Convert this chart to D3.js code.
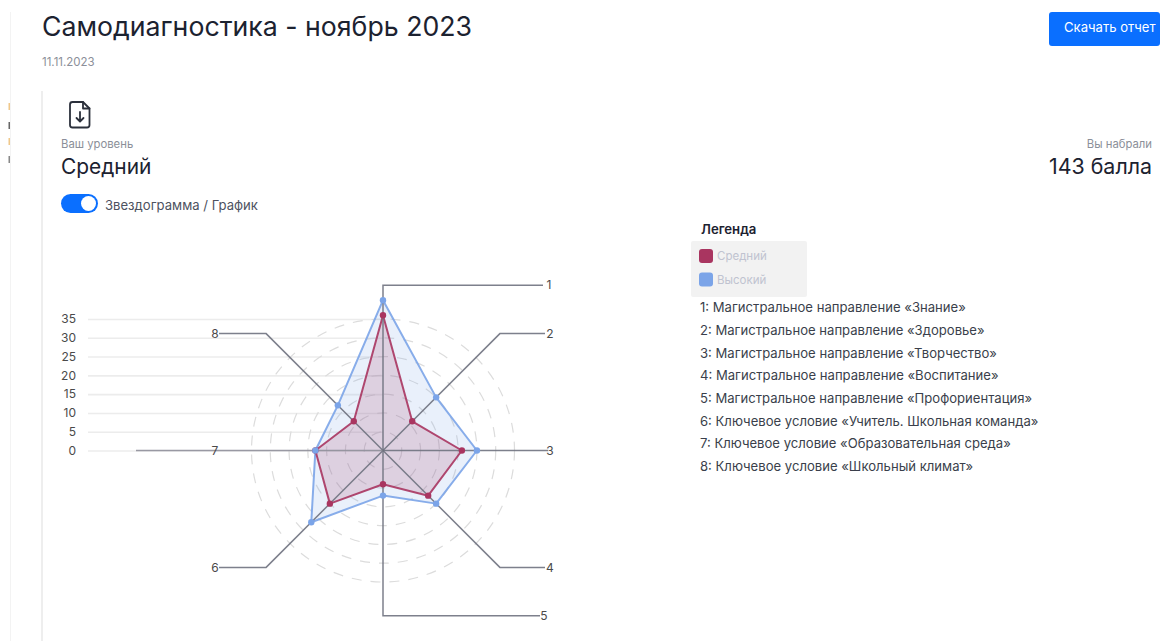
<!DOCTYPE html>
<html lang="ru">
<head>
<meta charset="utf-8">
<script src="https://cdn.jsdelivr.net/npm/d3@7"></script>
<style>
html,body{margin:0;padding:0;background:#fff;width:1160px;height:641px;overflow:hidden;font-family:Inter,"Noto Sans",sans-serif;}
svg{position:absolute;left:0;top:0;}
svg text{font-family:Inter,"Noto Sans",sans-serif;}
</style>
</head>
<body>
<svg id="chart" width="1160" height="641"></svg>
<script>
const axes = ["1","2","3","4","5","6","7","8"];
const seriesNames = ["Средний","Высокий"];
const midValues = [36,11,21,17,9,20,18,11];
const highValues = [40,20,25,20,12,27,18,17];
const tickValues = [0,5,10,15,20,25,30,35];
const legendLines = [
 "1: Магистральное направление «Знание»",
 "2: Магистральное направление «Здоровье»",
 "3: Магистральное направление «Творчество»",
 "4: Магистральное направление «Воспитание»",
 "5: Магистральное направление «Профориентация»",
 "6: Ключевое условие «Учитель. Школьная команда»",
 "7: Ключевое условие «Образовательная среда»",
 "8: Ключевое условие «Школьный климат»"
];
const leaderReach = 44;
const colors = {mid:"#a93560", high:"#7ba4e8"};

const svg = d3.select("#chart");
const cx = 383, cy = 450.5;
const r = d3.scaleLinear().domain([0,35]).range([0,131.5]);
const ang = d3.scalePoint().domain(axes).range([0,315]);
const pt = (a,v)=>{const t=ang(a)*Math.PI/180;return [cx+r(v)*Math.sin(t),cy-r(v)*Math.cos(t)];};

// page chrome
svg.append("rect").attr("x",10).attr("y",12).attr("width",1).attr("height",629).attr("fill","#f3f3f3");
svg.append("rect").attr("x",41).attr("y",91).attr("width",2).attr("height",550).attr("fill","#eeeeee");
[[106,"#f0c88a"],[125,"#666"],[141,"#f0c88a"],[159,"#888"]].forEach(d=>
  svg.append("rect").attr("x",8.5).attr("y",d[0]-3).attr("width",1.5).attr("height",7).attr("fill",d[1]));
svg.append("rect").attr("x",1049).attr("y",12).attr("width",111).attr("height",34).attr("rx",3).attr("fill","#0a6fff");

// file icon
const ic = svg.append("g").attr("fill","none").attr("stroke","#2b303b").attr("stroke-width",1.8)
  .attr("stroke-linecap","round").attr("stroke-linejoin","round");
ic.append("path").attr("d","M72.5 102h10.5l6.5 6.5v16.5a2.5 2.5 0 0 1-2.5 2.5h-14.5a2.5 2.5 0 0 1-2.5-2.5v-20.500a2.500 2.500 0 0 1 2.500-2.500z");
ic.append("path").attr("d","M83 102v6.500h6.500");
ic.append("path").attr("d","M80 112v9M76.500 118l3.500 3.500 3.500-3.500");

// toggle
svg.append("rect").attr("x",61).attr("y",194).attr("width",37).attr("height",19).attr("rx",9.5).attr("fill","#0a6fff");
svg.append("circle").attr("cx",88.500).attr("cy",203.500).attr("r",7.500).attr("fill","#fff");

// legend background
svg.append("rect").attr("x",691).attr("y",241).attr("width",116).attr("height",56).attr("rx",2).attr("fill","#f2f2f2");
seriesNames.forEach((n,i)=>{
  svg.append("rect").attr("x",699).attr("y",249+i*23.500).attr("width",14).attr("height",14).attr("rx",3)
    .attr("fill",i?colors.high:colors.mid);
});

// y axis with grid
const y = d3.scaleLinear().domain([0,35]).range([cy,cy-131.500]);
const yAxis = d3.axisLeft(y).tickValues(tickValues).tickSize(-295).tickPadding(12);
const ga = svg.append("g").attr("transform","translate(88,0)").call(yAxis);
ga.select(".domain").remove();
ga.selectAll("line").attr("stroke","#ececec").attr("stroke-width",1.6);
ga.selectAll("text").attr("font-size",12).attr("fill","#4a4a4a");

// dashed rings
svg.append("g").selectAll("circle").data(tickValues.slice(1)).join("circle")
  .attr("cx",cx).attr("cy",cy).attr("r",d=>r(d)).attr("fill","none")
  .attr("stroke","#dcdcdc").attr("stroke-width",1.2).attr("stroke-dasharray","10 9");

// series areas
const line = d3.line().curve(d3.curveLinearClosed);
const drawArea = (vals,c)=>svg.append("path").datum(axes.map((a,i)=>pt(a,vals[i])))
  .attr("d",line).attr("fill",c).attr("fill-opacity",0.17).attr("stroke",c).attr("stroke-opacity",0.9)
  .attr("stroke-width",2).attr("stroke-linejoin","round");
drawArea(highValues,colors.high);
drawArea(midValues,colors.mid);

// leaders
const leaderEnd = {"1":543,"2":545,"3":545,"4":545,"5":540,"6":219,"7":136,"8":219};
const labelX = {"1":549,"2":550,"3":550,"4":550,"5":544,"6":215,"7":215,"8":215};
const gl = svg.append("g");
axes.forEach(a=>{
  const p = pt(a,leaderReach);
  const end = [leaderEnd[a],p[1]];
  gl.append("path").attr("d",d3.line()([[cx,cy],p,end])).attr("fill","none")
    .attr("stroke",a==="7"?"#8f8f9a":"#6f7280").attr("stroke-width",1.500).attr("stroke-opacity",0.9);
  gl.append("text").attr("x",labelX[a]).attr("y",p[1]).attr("dy","0.35em").attr("text-anchor","middle")
    .attr("font-size",12).attr("fill","#4a4a4a").text(a);
});

// points
[[midValues,colors.mid],[highValues,colors.high]].forEach(([vals,c])=>{
  svg.append("g").selectAll("circle").data(axes).join("circle")
    .attr("cx",a=>pt(a,vals[axes.indexOf(a)])[0]).attr("cy",a=>pt(a,vals[axes.indexOf(a)])[1])
    .attr("r",3.2).attr("fill",c);
});

// text
const texts = [
 ["Самодиагностика - ноябрь 2023",42,26,26.7,"#1c2230",400,"l"],
 ["11.11.2023",42,62,11.5,"#8b8f99",400,"l"],
 ["Скачать отчет",1064,27,13.1,"#ffffff",400,"l"],
 ["Ваш уровень",61,144,11.3,"#8b8f99",400,"l"],
 ["Средний",61,166,20.9,"#1c2230",400,"l"],
 ["Вы набрали",1152,144,11.3,"#8b8f99",400,"r"],
 ["143 балла",1152,166,21.4,"#1c2230",400,"r"],
 ["Звездограмма / График",105,205,13.1,"#4d5260",400,"l"],
 ["Легенда",701,229,13.2,"#1c2230",600,"l"],
 [seriesNames[0],717,256,11.500,"#c0c3d0",400,"l"],
 [seriesNames[1],717,279.500,11.500,"#c0c3d0",400,"l"]
];
legendLines.forEach((l,i)=>texts.push([l,700,307.500+i*22.700,13.1,"#3a3f4b",400,"l"]));
svg.append("g").selectAll("text").data(texts).join("text")
  .attr("x",d=>d[1]).attr("y",d=>d[2]).attr("dy","0.36em")
  .attr("font-size",d=>d[3]).attr("fill",d=>d[4]).attr("font-weight",d=>d[5])
  .attr("text-anchor",d=>d[6]==="r"?"end":"start").text(d=>d[0]);
</script>
</body>
</html>
